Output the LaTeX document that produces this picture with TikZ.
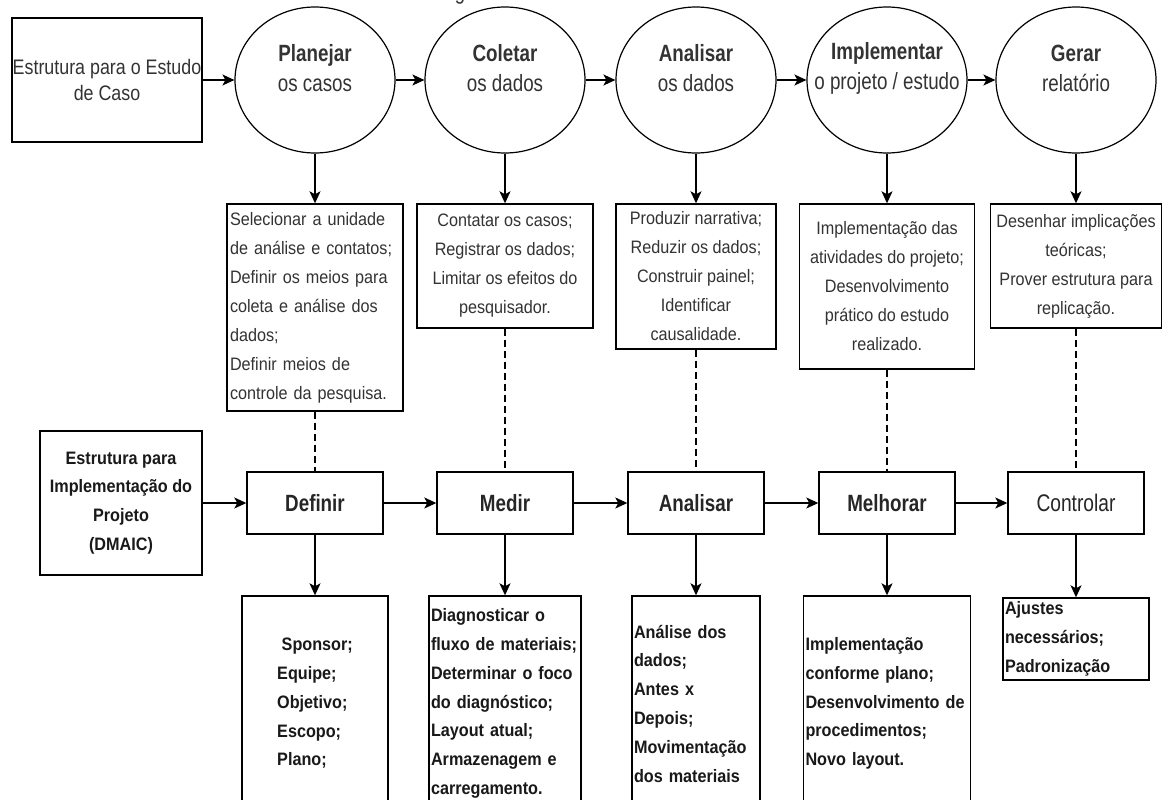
\documentclass[tikz,border=0pt]{standalone}
\usepackage{fontspec}
\setmainfont[FakeStretch=0.9]{Liberation Sans}
\newfontfamily\condfont[FakeStretch=0.8]{Liberation Sans}
\newfontfamily\semicondfont[FakeStretch=0.85]{Liberation Sans}
\usetikzlibrary{shapes.geometric,arrows.meta}
\tikzset{
  box/.style={draw=black, line width=1.4pt, rectangle, inner sep=3pt, text=black!80},
  oval/.style={draw=black, ellipse, line width=1.2pt, minimum width=160pt, minimum height=146pt, inner sep=0pt},
  lbl/.style={inner sep=0pt, align=center, text=black!80, font=\condfont\fontsize{23.5}{30}\selectfont},
  stepbox/.style={box, minimum width=136pt, minimum height=62pt, font=\condfont\bfseries\fontsize{23.5}{25}\selectfont, text=black!85},
  midtxt/.style={font=\fontsize{18}{29}\selectfont},
  bottxt/.style={font=\bfseries\fontsize{18}{28.8}\selectfont, text=black!90},
  conn/.style={line width=1.3pt, -{Stealth[length=12pt,width=11pt,inset=3pt]}},
  dashline/.style={line width=1.2pt, dash pattern=on 7pt off 4pt},
}
\begin{document}
\begin{tikzpicture}[x=1pt,y=-1pt]
\useasboundingbox (0,0) rectangle (1162,800);
\clip (0,0) rectangle (1162,800);
\fill[white] (0,0) rectangle (1162,800);

% fragment of a cut-off title
\node[anchor=base, inner sep=0pt, text=black!80, font=\condfont\fontsize{23}{25}\selectfont] (gfrag) at (460,0) {g};

% top row
\node[box, minimum width=190pt, minimum height=124pt, align=center,
      font=\semicondfont\fontsize{21}{26}\selectfont, inner sep=0pt] (tl) at (107,80)
      {Estrutura para o Estudo\\de Caso};
\node[oval] (e1) at (315,80) {};
\node[oval] (e2) at (505,80) {};
\node[oval] (e3) at (696,80) {};
\node[oval] (e4) at (887,80) {};
\node[oval] (e5) at (1076,80) {};
\node[lbl] (l1) at (315,68) {\textbf{Planejar}\\os casos};
\node[lbl] (l2) at (505,68) {\textbf{Coletar}\\os dados};
\node[lbl] (l3) at (696,68) {\textbf{Analisar}\\os dados};
\node[lbl] (l4) at (887,68) {\textbf{Implementar}\\o projeto / estudo};
\node[lbl] (l5) at (1076,68) {\textbf{Gerar}\\relatório};

% middle boxes
\node[box, midtxt, minimum width=176pt, minimum height=207pt, text width=170pt, align=left] (m1) at (315,307.5)
  {Selecionar a unidade\\de análise e contatos;\\Definir os meios para\\coleta e análise dos\\dados;\\Definir meios de\\controle da pesquisa.};
\node[box, midtxt, minimum width=176pt, minimum height=124pt, align=center] (m2) at (505,266)
  {Contatar os casos;\\Registrar os dados;\\Limitar os efeitos do\\pesquisador.};
\node[box, midtxt, minimum width=160pt, minimum height=145pt, align=center] (m3) at (696,276.5)
  {Produzir narrativa;\\Reduzir os dados;\\Construir painel;\\Identificar\\causalidade.};
\node[box, midtxt, minimum width=175pt, minimum height=165pt, align=center] (m4) at (887,286.5)
  {Implementação das\\atividades do projeto;\\Desenvolvimento\\prático do estudo\\realizado.};
\node[box, midtxt, minimum width=171pt, minimum height=124pt, align=center, inner sep=1pt] (m5) at (1076,266)
  {Desenhar implicações\\teóricas;\\Prover estrutura para\\replicação.};

% DMAIC row
\node[box, bottxt, minimum width=162pt, minimum height=144pt, align=center] (lb) at (121,503)
  {Estrutura para\\Implementação do\\Projeto\\(DMAIC)};
\node[stepbox] (d1) at (315,503) {Definir};
\node[stepbox] (d2) at (505,503) {Medir};
\node[stepbox] (d3) at (696,503) {Analisar};
\node[stepbox] (d4) at (887,503) {Melhorar};
\node[stepbox, font=\condfont\fontsize{24}{25}\selectfont] (d5) at (1076,503) {Controlar};

% bottom boxes
\node[box, bottxt, minimum width=146pt, minimum height=215pt, align=left] (b1) at (315,703.5)
  {\ Sponsor;\\Equipe;\\Objetivo;\\Escopo;\\Plano;};
\node[box, bottxt, minimum width=152pt, minimum height=215pt, text width=148pt, align=left, inner sep=2pt] (b2) at (505,703.5)
  {Diagnosticar o\\fluxo de materiais;\\Determinar o foco\\do diagnóstico;\\Layout atual;\\Armazenagem e\\carregamento.};
\node[box, bottxt, minimum width=128pt, minimum height=215pt, text width=124pt, align=left, inner sep=2pt] (b3) at (696,703.5)
  {Análise dos\\dados;\\Antes x\\Depois;\\Movimentação\\dos materiais};
\node[box, bottxt, minimum width=167pt, minimum height=215pt, text width=163pt, align=left, inner sep=2pt] (b4) at (887,703.5)
  {Implementação\\conforme plano;\\Desenvolvimento de\\procedimentos;\\Novo layout.};
\node[box, bottxt, minimum width=146pt, minimum height=82pt, text width=142pt, align=left, inner sep=2pt] (b5) at (1076,639)
  {Ajustes\\necessários;\\Padronização};

% connectors: top row
\draw[conn] (tl) -- (e1);
\draw[conn] (e1) -- (e2);
\draw[conn] (e2) -- (e3);
\draw[conn] (e3) -- (e4);
\draw[conn] (e4) -- (e5);
\draw[conn] (e1.south) -- (e1.south |- m1.north);
\draw[conn] (e2.south) -- (e2.south |- m2.north);
\draw[conn] (e3.south) -- (e3.south |- m3.north);
\draw[conn] (e4.south) -- (e4.south |- m4.north);
\draw[conn] (e5.south) -- (e5.south |- m5.north);

% dashed links
\draw[dashline] (m1.south -| d1.north) -- (d1.north);
\draw[dashline] (m2.south -| d2.north) -- (d2.north);
\draw[dashline] (m3.south -| d3.north) -- (d3.north);
\draw[dashline] (m4.south -| d4.north) -- (d4.north);
\draw[dashline] (m5.south -| d5.north) -- (d5.north);

% DMAIC row connectors
\draw[conn] (lb) -- (d1);
\draw[conn] (d1) -- (d2);
\draw[conn] (d2) -- (d3);
\draw[conn] (d3) -- (d4);
\draw[conn] (d4) -- (d5);
\draw[conn] (d1.south) -- (d1.south |- b1.north);
\draw[conn] (d2.south) -- (d2.south |- b2.north);
\draw[conn] (d3.south) -- (d3.south |- b3.north);
\draw[conn] (d4.south) -- (d4.south |- b4.north);
\draw[conn] (d5.south) -- (d5.south |- b5.north);
\end{tikzpicture}
\end{document}
